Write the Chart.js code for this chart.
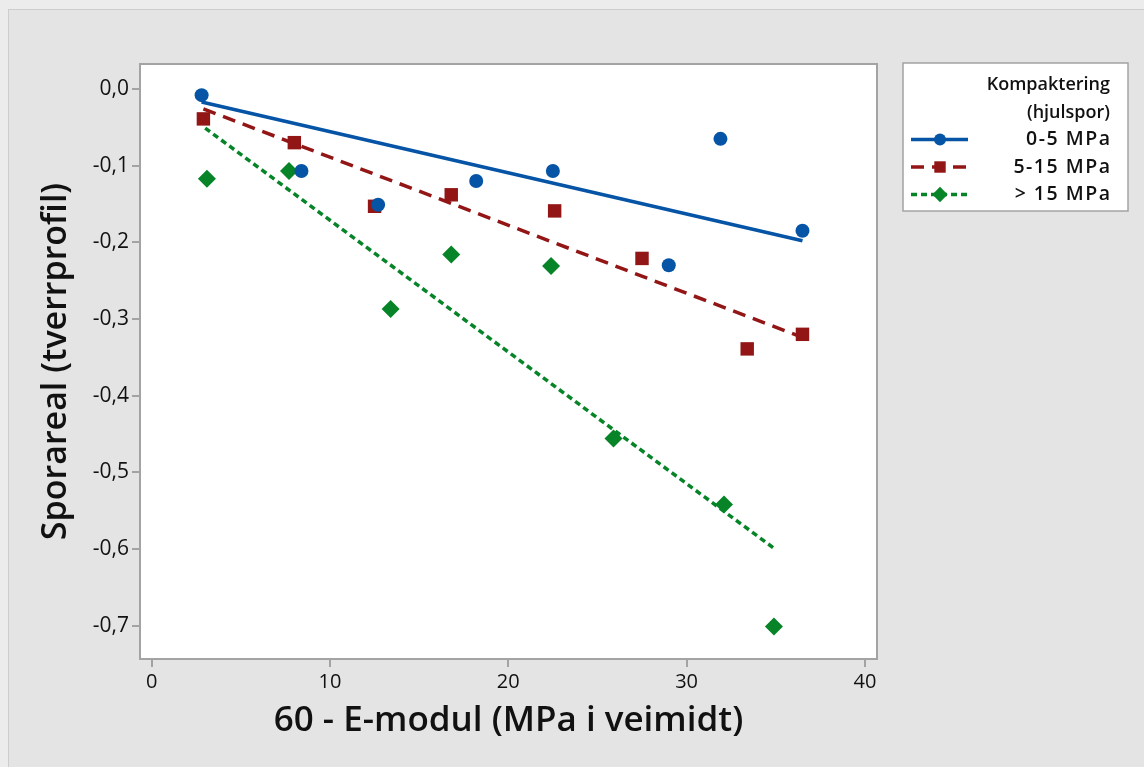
<!DOCTYPE html>
<html>
<head>
<meta charset="utf-8">
<script src="https://cdn.jsdelivr.net/npm/chart.js@4/dist/chart.umd.min.js"></script>
<style>
  html, body { margin: 0; padding: 0; background: #ececec; }
  #wrap { position: absolute; left: 0; top: 0; width: 1144px; height: 767px; }
  #frame { position: absolute; left: 8px; top: 9px; width: 1150px; height: 770px; background: #e4e4e4; border: 1px solid #cdcdcd; box-sizing: border-box; }
  canvas { position: absolute; left: 0; top: 0; }
</style>
</head>
<body>
<div id="wrap">
  <div id="frame"></div>
  <canvas id="c" width="1144" height="767"></canvas>
</div>
<script>
// ---- data ----
const seriesNames = ['0-5 MPa', '5-15 MPa', '> 15 MPa'];
const legendTitle = ['Kompaktering', '(hjulspor)'];

const lowX  = [2.8, 8.4, 12.7, 18.2, 22.5, 31.9, 29.0, 36.5];
const lowY  = [-0.008, -0.107, -0.151, -0.120, -0.107, -0.065, -0.230, -0.185];

const midX  = [2.9, 8.0, 12.5, 16.8, 22.6, 27.5, 33.4, 36.5];
const midY  = [-0.039, -0.070, -0.153, -0.138, -0.159, -0.221, -0.339, -0.320];

const highX = [3.1, 7.7, 13.4, 16.8, 22.4, 25.9, 32.1, 34.9];
const highY = [-0.117, -0.107, -0.287, -0.216, -0.231, -0.456, -0.542, -0.701];

// fitted regression lines (end points)
const lowFitX  = [2.8, 36.5];
const lowFitY  = [-0.017, -0.198];
const midFitX  = [2.9, 36.5];
const midFitY  = [-0.026, -0.324];
const highFitX = [3.0, 34.9];
const highFitY = [-0.051, -0.599];

const xTicks = [0, 10, 20, 30, 40];
const yTicks = [0, -0.1, -0.2, -0.3, -0.4, -0.5, -0.6, -0.7];

const xTitle = '60 - E-modul (MPa i veimidt)';
const yTitle = 'Sporareal (tverrprofil)';

// ---- styles ----
const colors = ['#0554a5', '#921616', '#068427'];
const shapes = ['circle', 'rect', 'rectRot'];
const radii = [7, 9.5, 9];
const dashes = [[], [13, 8], [6, 4]];
const FONT = '"Open Sans", "Noto Sans", sans-serif';

const zip = (xs, ys) => xs.map((x, i) => ({x: x, y: ys[i]}));

const pts = [[lowX, lowY], [midX, midY], [highX, highY]];
const fits = [[lowFitX, lowFitY], [midFitX, midFitY], [highFitX, highFitY]];

const datasets = [];
fits.forEach((f, i) => {
  datasets.push({
    label: seriesNames[i] + ' fit',
    data: zip(f[0], f[1]),
    showLine: true,
    borderColor: colors[i],
    borderWidth: 3.5,
    borderDash: dashes[i],
    pointRadius: 0,
    fill: false,
    order: 2
  });
});
pts.forEach((p, i) => {
  datasets.push({
    label: seriesNames[i],
    data: zip(p[0], p[1]),
    showLine: false,
    pointStyle: shapes[i],
    pointRadius: radii[i],
    pointBackgroundColor: colors[i],
    pointBorderColor: colors[i],
    pointBorderWidth: 0,
    order: 1
  });
});

function drawMarker(ctx, shape, x, y, r, color) {
  ctx.save();
  ctx.fillStyle = color;
  ctx.beginPath();
  if (shape === 'circle') {
    ctx.arc(x, y, r, 0, Math.PI * 2);
  } else if (shape === 'rect') {
    const s = r * Math.SQRT1_2;
    ctx.rect(x - s, y - s, 2 * s, 2 * s);
  } else {
    ctx.moveTo(x, y - r); ctx.lineTo(x + r, y); ctx.lineTo(x, y + r); ctx.lineTo(x - r, y); ctx.closePath();
  }
  ctx.fill();
  ctx.restore();
}

const framePlugin = {
  id: 'framePlugin',
  beforeDraw(chart) {
    const {ctx, chartArea: a} = chart;
    ctx.save();
    ctx.fillStyle = '#ffffff';
    ctx.fillRect(a.left, a.top, a.right - a.left, a.bottom - a.top);
    ctx.restore();
  },
  afterDraw(chart) {
    const {ctx, chartArea: a} = chart;
    ctx.save();
    ctx.strokeStyle = '#a3a3a3';
    ctx.lineWidth = 2;
    ctx.strokeRect(a.left, a.top, a.right - a.left, a.bottom - a.top);
    // legend
    const lx = 903, ly = 63, lw = 225, lh = 148;
    ctx.fillStyle = '#ffffff';
    ctx.fillRect(lx, ly, lw, lh);
    ctx.strokeStyle = '#a3a3a3';
    ctx.lineWidth = 1.5;
    ctx.strokeRect(lx, ly, lw, lh);
    ctx.fillStyle = '#111111';
    ctx.textAlign = 'right';
    ctx.textBaseline = 'middle';
    ctx.font = '600 18px ' + FONT;
    const tx = 1110;
    ctx.fillText(legendTitle[0], tx, 85);
    ctx.fillText(legendTitle[1], tx, 112.5);
    const rows = [139.5, 167, 194.5];
    seriesNames.forEach((n, i) => {
      const y = rows[i];
      ctx.save();
      ctx.fillStyle = '#111111';
      ctx.font = '600 19.5px ' + FONT;
      if ('letterSpacing' in ctx) ctx.letterSpacing = '1.5px';
      ctx.fillText(n, tx + 1.5, y);
      ctx.restore();
      ctx.save();
      ctx.strokeStyle = colors[i];
      ctx.lineWidth = 3.5;
      ctx.setLineDash(dashes[i]);
      ctx.beginPath();
      ctx.moveTo(911, y);
      ctx.lineTo(968, y);
      ctx.stroke();
      ctx.restore();
      drawMarker(ctx, shapes[i], 940, y, radii[i] * 0.85, colors[i]);
    });
    ctx.restore();
  }
};

new Chart(document.getElementById('c'), {
  type: 'scatter',
  data: { datasets: datasets },
  plugins: [framePlugin],
  options: {
    responsive: false,
    animation: false,
    layout: { padding: { left: 0, top: 64, right: 267, bottom: 0 } },
    plugins: { legend: { display: false }, tooltip: { enabled: false } },
    scales: {
      x: {
        type: 'linear',
        min: -0.656,
        max: 40.68,
        afterFit: s => { s.height = 108; },
        afterBuildTicks: s => { s.ticks = xTicks.map(v => ({value: v})); },
        grid: { display: true, drawOnChartArea: false, drawTicks: true, tickLength: 8, color: '#a3a3a3', lineWidth: 2 },
        border: { display: false },
        ticks: { color: '#111', font: { family: FONT, size: 20 }, padding: 3, maxRotation: 0,
                 callback: v => String(v) },
        title: { display: true, text: xTitle, color: '#111', font: { family: FONT, size: 35, weight: '600' }, padding: { top: 0, bottom: 25 } }
      },
      y: {
        type: 'linear',
        min: -0.7435,
        max: 0.0326,
        afterFit: s => { s.width = 140; },
        afterBuildTicks: s => { s.ticks = yTicks.map(v => ({value: v})); },
        grid: { display: true, drawOnChartArea: false, drawTicks: true, tickLength: 8, color: '#a3a3a3', lineWidth: 2 },
        border: { display: false },
        ticks: { color: '#111', font: { family: FONT, size: 21 }, padding: 3,
                 callback: v => v.toFixed(1).replace('.', ',').replace('-0,0', '0,0') },
        title: { display: true, text: yTitle, color: '#111', font: { family: FONT, size: 34, weight: '600' }, padding: { top: 36, bottom: 0 } }
      }
    }
  }
});
</script>
</body>
</html>
